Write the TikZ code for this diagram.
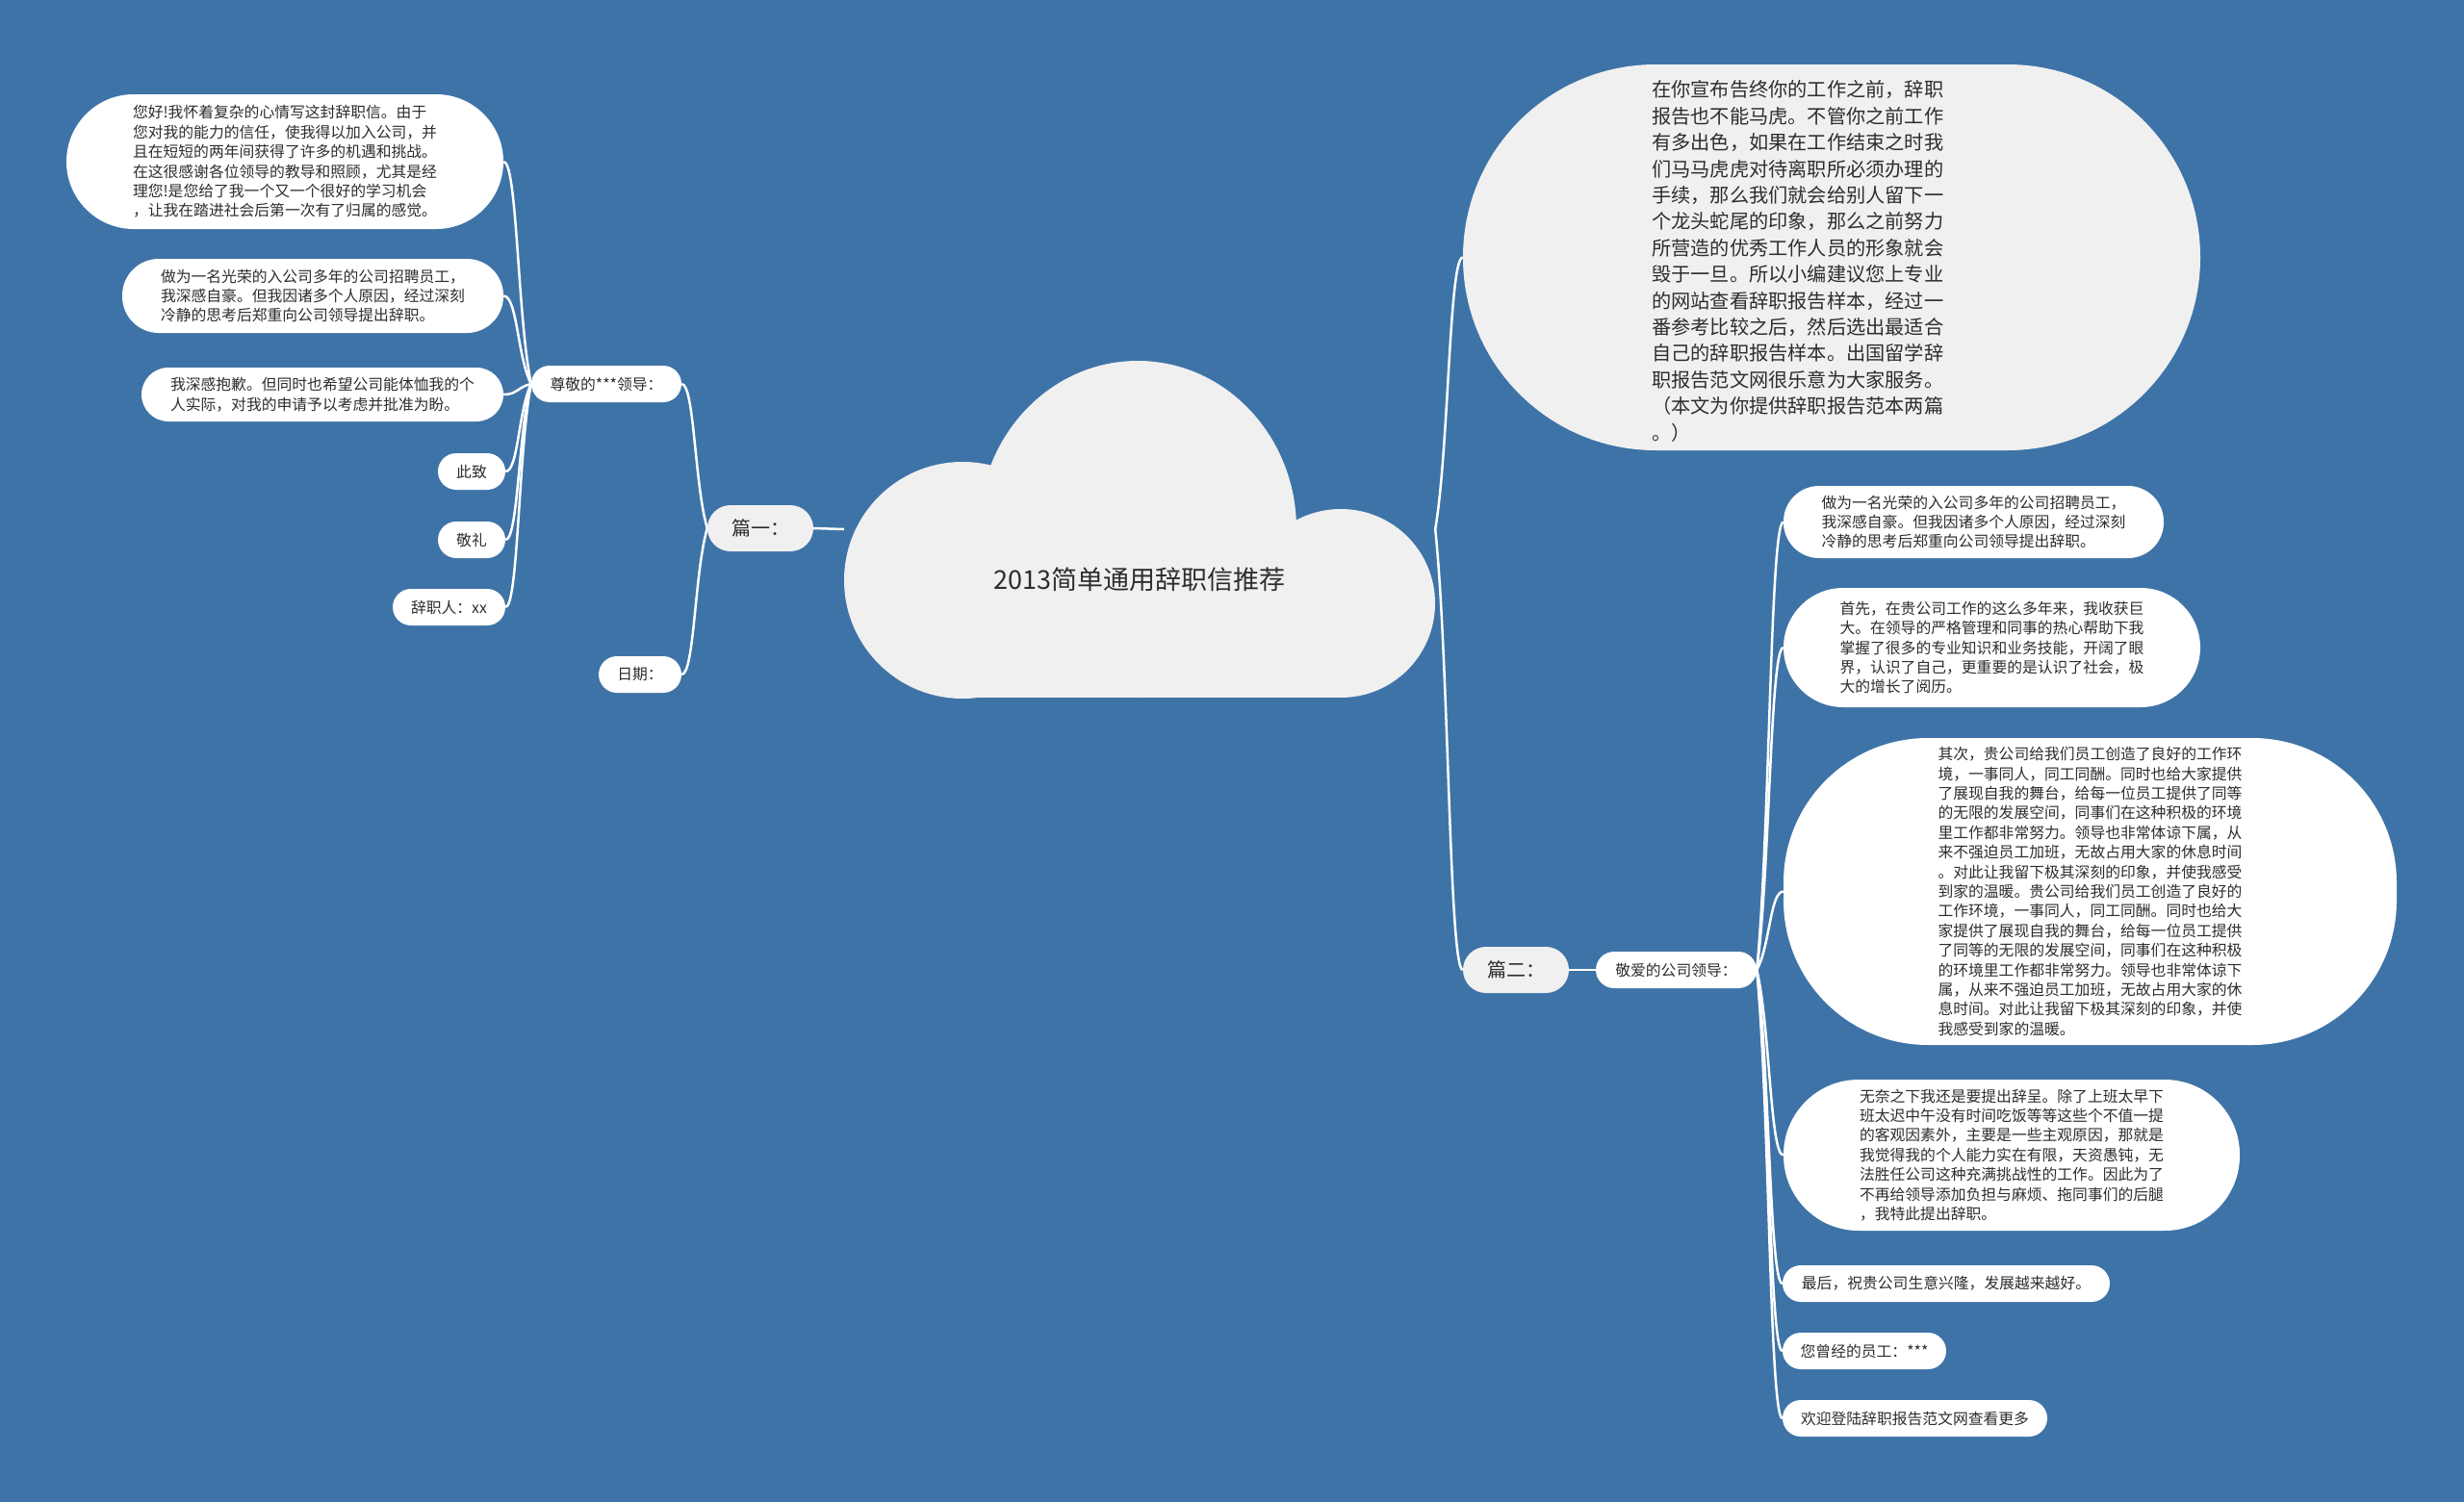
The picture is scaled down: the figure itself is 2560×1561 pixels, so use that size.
\documentclass[tikz,border=0pt]{standalone}
\usepackage{fontspec}
\setmainfont{Noto Sans CJK SC}
\usetikzlibrary{calc}
\definecolor{bgblue}{RGB}{62,115,167}
\definecolor{lightfill}{RGB}{240,240,240}
\definecolor{txt}{RGB}{45,45,45}
\pgfdeclarelayer{backlayer}
\pgfdeclarelayer{edgelayer}
\pgfsetlayers{backlayer,edgelayer,main}
\newcommand\mmlink[2]{\draw[conn] let \p1=(#1), \p2=(#2) in (\p1) .. controls ({0.5*\x1+0.5*\x2},{0.7*\y1+0.3*\y2}) and ({0.5*\x1+0.5*\x2},\y2) .. (\p2);}
\begin{document}
\begin{tikzpicture}[x=1pt,y=-1pt,
  conn/.style={draw=white, line width=2.5pt},
  pill/.style={fill=white, text=txt, inner sep=0pt, align=left, font=\fontsize{15.8}{20.4}\selectfont},
  greypill/.style={pill, fill=lightfill, font=\fontsize{20}{24}\selectfont},
  sz/.style n args={3}{minimum width=#1pt, minimum height=#2pt, rounded corners=#3pt}]
\begin{pgfonlayer}{backlayer}
\fill[bgblue] (0,0) rectangle (2560,1561);
\end{pgfonlayer}
\useasboundingbox (0,0) rectangle (2560,1561);

% cloud
\fill[lightfill] (1000,603) circle[radius=123];
\fill[lightfill] (1182,550) ellipse[x radius=165, y radius=175];
\fill[lightfill] (1393,627) circle[radius=98];
\fill[lightfill] (1000,603) rectangle (1393,725);
\node[inner sep=0pt, minimum width=614pt, minimum height=350pt] (cloud) at (1184,550) {};
\node[text=txt, inner sep=0pt, font=\fontsize{27}{32}\selectfont] (title) at (1184,602) {2013简单通用辞职信推荐};

% left branch
\node[greypill, sz={110}{48}{24}] (p1) at (790,549) {篇一：};
\node[pill, sz={156}{38}{19}] (zj) at (630,399) {尊敬的***领导：};
\node[pill, sz={86}{38}{19}] (rq) at (665,701) {日期：};
\node[pill, sz={454}{140}{70}] (l1) at (296,168) {您好!我怀着复杂的心情写这封辞职信。由于\\您对我的能力的信任，使我得以加入公司，并\\且在短短的两年间获得了许多的机遇和挑战。\\在这很感谢各位领导的教导和照顾，尤其是经\\理您!是您给了我一个又一个很好的学习机会\\，让我在踏进社会后第一次有了归属的感觉。};
\node[pill, sz={396}{77}{38}] (l2) at (325,307.5) {做为一名光荣的入公司多年的公司招聘员工，\\我深感自豪。但我因诸多个人原因，经过深刻\\冷静的思考后郑重向公司领导提出辞职。};
\node[pill, sz={376}{56}{28}] (l3) at (335,410) {我深感抱歉。但同时也希望公司能体恤我的个\\人实际，对我的申请予以考虑并批准为盼。};
\node[pill, sz={70}{38}{19}] (cz) at (490,490) {此致};
\node[pill, sz={70}{38}{19}] (jl) at (490,561) {敬礼};
\node[pill, sz={117}{38}{19}] (czr) at (466.5,631) {辞职人：xx};

% right branch
\node[fill=lightfill, inner sep=0pt, sz={766}{401}{200}] (r0) at (1903,267.5) {};
\node[text=txt, inner sep=0pt, align=left, anchor=west, font=\fontsize{20.2}{27.4}\selectfont] (r0t) at (1716,271.5) {在你宣布告终你的工作之前，辞职\\报告也不能马虎。不管你之前工作\\有多出色，如果在工作结束之时我\\们马马虎虎对待离职所必须办理的\\手续，那么我们就会给别人留下一\\个龙头蛇尾的印象，那么之前努力\\所营造的优秀工作人员的形象就会\\毁于一旦。所以小编建议您上专业\\的网站查看辞职报告样本，经过一\\番参考比较之后，然后选出最适合\\自己的辞职报告样本。出国留学辞\\职报告范文网很乐意为大家服务。\\（本文为你提供辞职报告范本两篇\\。）};
\node[greypill, sz={110}{48}{24}] (p2) at (1575,1008) {篇二：};
\node[pill, sz={167}{38}{19}] (ja) at (1741.5,1008) {敬爱的公司领导：};
\node[pill, sz={395}{75}{37}] (r1) at (2050.5,542.5) {做为一名光荣的入公司多年的公司招聘员工，\\我深感自豪。但我因诸多个人原因，经过深刻\\冷静的思考后郑重向公司领导提出辞职。};
\node[pill, sz={433}{124}{62}] (r2) at (2069.5,673) {首先，在贵公司工作的这么多年来，我收获巨\\大。在领导的严格管理和同事的热心帮助下我\\掌握了很多的专业知识和业务技能，开阔了眼\\界，认识了自己，更重要的是认识了社会，极\\大的增长了阅历。};
\node[pill, sz={637}{319}{150}] (r3) at (2171.5,926.5) {其次，贵公司给我们员工创造了良好的工作环\\境，一事同人，同工同酬。同时也给大家提供\\了展现自我的舞台，给每一位员工提供了同等\\的无限的发展空间，同事们在这种积极的环境\\里工作都非常努力。领导也非常体谅下属，从\\来不强迫员工加班，无故占用大家的休息时间\\。对此让我留下极其深刻的印象，并使我感受\\到家的温暖。贵公司给我们员工创造了良好的\\工作环境，一事同人，同工同酬。同时也给大\\家提供了展现自我的舞台，给每一位员工提供\\了同等的无限的发展空间，同事们在这种积极\\的环境里工作都非常努力。领导也非常体谅下\\属，从来不强迫员工加班，无故占用大家的休\\息时间。对此让我留下极其深刻的印象，并使\\我感受到家的温暖。};
\node[pill, sz={474}{157}{78}] (r4) at (2090,1200.5) {无奈之下我还是要提出辞呈。除了上班太早下\\班太迟中午没有时间吃饭等等这些个不值一提\\的客观因素外，主要是一些主观原因，那就是\\我觉得我的个人能力实在有限，天资愚钝，无\\法胜任公司这种充满挑战性的工作。因此为了\\不再给领导添加负担与麻烦、拖同事们的后腿\\，我特此提出辞职。};
\node[pill, sz={340}{38}{19}] (r5) at (2022,1334) {最后，祝贵公司生意兴隆，发展越来越好。};
\node[pill, sz={170}{38}{19}] (r6) at (1937,1404) {您曾经的员工：***};
\node[pill, sz={275}{38}{19}] (r7) at (1989.5,1474) {欢迎登陆辞职报告范文网查看更多};

\begin{pgfonlayer}{edgelayer}
\draw[conn] (p1.east) -- (cloud.west);
\mmlink{p1.west}{zj.east}
\mmlink{p1.west}{rq.east}
\mmlink{zj.west}{l1.east}
\mmlink{zj.west}{l2.east}
\mmlink{zj.west}{l3.east}
\mmlink{zj.west}{cz.east}
\mmlink{zj.west}{jl.east}
\mmlink{zj.west}{czr.east}
\mmlink{cloud.east}{r0.west}
\mmlink{cloud.east}{p2.west}
\draw[conn] (p2.east) -- (ja.west);
\mmlink{ja.east}{r1.west}
\mmlink{ja.east}{r2.west}
\mmlink{ja.east}{r3.west}
\mmlink{ja.east}{r4.west}
\mmlink{ja.east}{r5.west}
\mmlink{ja.east}{r6.west}
\mmlink{ja.east}{r7.west}
\end{pgfonlayer}
\end{tikzpicture}
\end{document}
